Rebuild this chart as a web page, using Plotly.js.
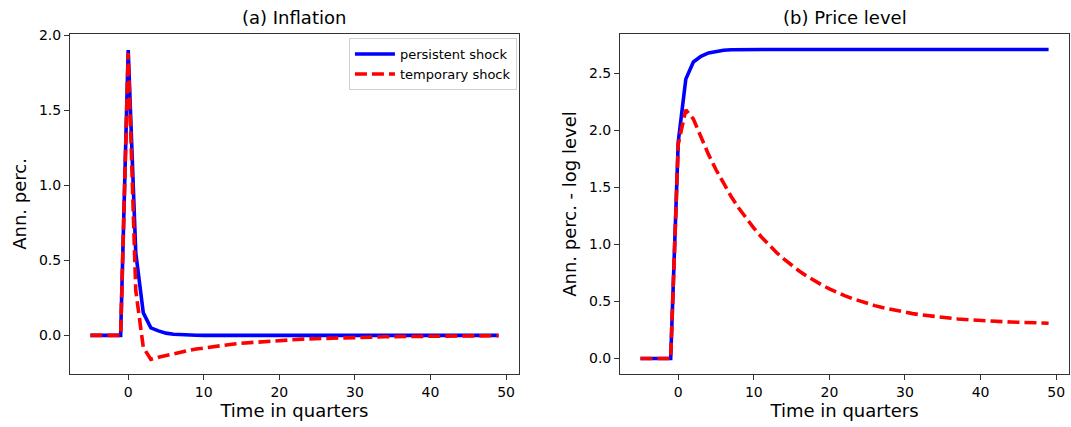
<!DOCTYPE html>
<html>
<head>
<meta charset="utf-8">
<script src="https://cdn.plot.ly/plotly-3.0.1.min.js"></script>
<style>html,body{margin:0;padding:0;background:#fff}#chart{width:1071px;height:427px}</style>
</head>
<body>
<div id="chart"></div>
<script>
// Time in quarters
const quarters = [-5,-4,-3,-2,-1,0,1,2,3,4,5,6,7,8,9,10,11,12,13,14,15,16,17,18,19,20,21,22,23,24,25,26,27,28,29,30,31,32,33,34,35,36,37,38,39,40,41,42,43,44,45,46,47,48,49];

// (a) Inflation
const inflPersistent = [0,0,0,0,0,1.9,0.55,0.15,0.05,0.03,0.015,0.008,0.004,0.002,0.001,0,0,0,0,0,0,0,0,0,0,0,0,0,0,0,0,0,0,0,0,0,0,0,0,0,0,0,0,0,0,0,0,0,0,0,0,0,0,0,0];
const inflTemporary = [0,0,0,0,0,1.88,0.30,-0.08,-0.16,-0.146,-0.133,-0.121,-0.110,-0.100,-0.091,-0.083,-0.076,-0.069,-0.063,-0.057,-0.052,-0.048,-0.043,-0.040,-0.036,-0.033,-0.030,-0.027,-0.025,-0.023,-0.021,-0.019,-0.017,-0.016,-0.014,-0.013,-0.012,-0.011,-0.010,-0.009,-0.008,-0.0075,-0.007,-0.006,-0.0055,-0.005,-0.0045,-0.004,-0.0037,-0.0034,-0.003,-0.0028,-0.0025,-0.0023,-0.002];

// (b) Price level
const levelPersistent = [0,0,0,0,0,1.9,2.45,2.60,2.65,2.68,2.695,2.703,2.707,2.709,2.71,2.71,2.71,2.71,2.71,2.71,2.71,2.71,2.71,2.71,2.71,2.71,2.71,2.71,2.71,2.71,2.71,2.71,2.71,2.71,2.71,2.71,2.71,2.71,2.71,2.71,2.71,2.71,2.71,2.71,2.71,2.71,2.71,2.71,2.71,2.71,2.71,2.71,2.71,2.71,2.71];
const levelTemporary = [0,0,0,0,0,1.88,2.18,2.10,1.94,1.79,1.655,1.533,1.421,1.320,1.228,1.144,1.066,0.995,0.930,0.871,0.817,0.768,0.723,0.682,0.645,0.611,0.580,0.552,0.527,0.504,0.483,0.464,0.447,0.432,0.418,0.405,0.394,0.384,0.375,0.367,0.360,0.353,0.347,0.342,0.337,0.333,0.329,0.326,0.323,0.320,0.318,0.316,0.314,0.312,0.310];

const seriesNames = ['persistent shock','temporary shock'];

const blue = 'rgb(0,0,255)';
const red = 'rgb(255,0,0)';
const dashRed = '12px,5px';

const traces = [
  {x: quarters, y: inflPersistent, type:'scatter', mode:'lines', name: seriesNames[0], line:{color:blue, width:3.6}, xaxis:'x', yaxis:'y', legendgroup:'p'},
  {x: quarters, y: inflTemporary, type:'scatter', mode:'lines', name: seriesNames[1], line:{color:red, width:3.6, dash:dashRed}, xaxis:'x', yaxis:'y', legendgroup:'t'},
  {x: quarters, y: levelPersistent, type:'scatter', mode:'lines', name: seriesNames[0], line:{color:blue, width:3.6}, xaxis:'x2', yaxis:'y2', showlegend:false},
  {x: quarters, y: levelTemporary, type:'scatter', mode:'lines', name: seriesNames[1], line:{color:red, width:3.6, dash:dashRed}, xaxis:'x2', yaxis:'y2', showlegend:false}
];

const font = {family:'DejaVu Sans, sans-serif', color:'#000'};
const axisCommon = {
  showline:true, mirror:true, linecolor:'#333', linewidth:1,
  ticks:'outside', ticklen:5, tickwidth:1, tickcolor:'#333',
  showgrid:false, zeroline:false,
  tickfont:{family:font.family, size:14, color:'#000'}
};

const layout = {
  width:1071, height:427,
  margin:{l:70, r:2, t:34, b:53},
  paper_bgcolor:'#fff', plot_bgcolor:'#fff',
  font: font,
  showlegend:true,
  legend:{x:0.4474, y:0.988, xanchor:'right', yanchor:'top', bgcolor:'rgba(255,255,255,0.8)', bordercolor:'#d0d0d0', borderwidth:1, font:{family:font.family, size:13, color:'#000'}, tracegroupgap:0, itemwidth:40},
  xaxis: Object.assign({}, axisCommon, {domain:[0,0.4494], range:[-7.7,51.7], tick0:0, dtick:10, anchor:'y',
    title:{text:'Time in quarters', font:{family:font.family, size:18, color:'#000'}, standoff:5}}),
  yaxis: Object.assign({}, axisCommon, {domain:[0,1], range:[-0.257,2.007], tick0:0, dtick:0.5, tickformat:'.1f', anchor:'x',
    title:{text:'Ann. perc.', font:{family:font.family, size:18, color:'#000'}, standoff:7}}),
  xaxis2: Object.assign({}, axisCommon, {domain:[0.5506,1], range:[-7.7,51.7], tick0:0, dtick:10, anchor:'y2',
    title:{text:'Time in quarters', font:{family:font.family, size:18, color:'#000'}, standoff:5}}),
  yaxis2: Object.assign({}, axisCommon, {domain:[0,1], range:[-0.1355,2.8455], tick0:0, dtick:0.5, tickformat:'.1f', anchor:'x2',
    title:{text:'Ann. perc. - log level', font:{family:font.family, size:18, color:'#000'}, standoff:7}}),
  annotations:[
    {text:'(a) Inflation', xref:'paper', yref:'paper', x:0.2247, y:1, yshift:4, xanchor:'center', yanchor:'bottom', showarrow:false, font:{family:font.family, size:18, color:'#000'}},
    {text:'(b) Price level', xref:'paper', yref:'paper', x:0.7753, y:1, yshift:4, xanchor:'center', yanchor:'bottom', showarrow:false, font:{family:font.family, size:18, color:'#000'}}
  ]
};

Plotly.newPlot('chart', traces, layout, {displayModeBar:false, staticPlot:true});
</script>
</body>
</html>
